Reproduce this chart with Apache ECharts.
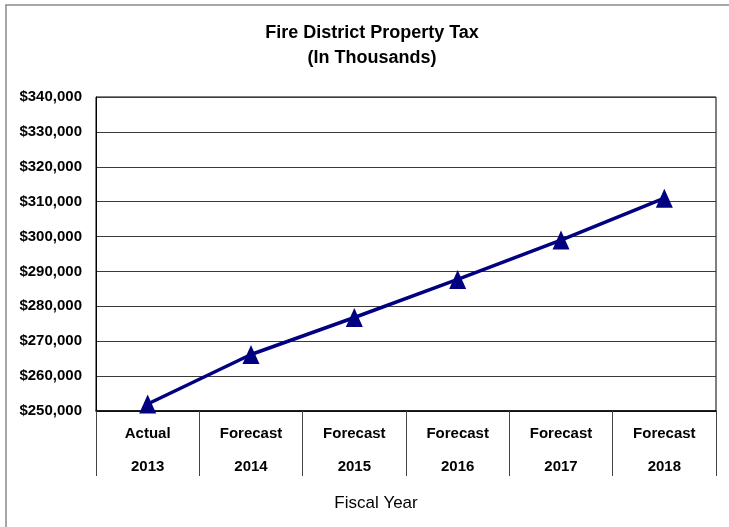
<!DOCTYPE html>
<html>
<head>
<meta charset="utf-8">
<script src="https://cdn.jsdelivr.net/npm/echarts@6/dist/echarts.min.js"></script>
<style>
  html, body { margin: 0; padding: 0; background: #fff; }
  #chart { width: 729px; height: 527px; }
</style>
</head>
<body>
<div id="chart"></div>
<script>
// Fiscal years and property tax revenue (in thousands of dollars)
const categories = ['Actual\n2013', 'Forecast\n2014', 'Forecast\n2015', 'Forecast\n2016', 'Forecast\n2017', 'Forecast\n2018'];
const taxValues = [252000, 266200, 276800, 287700, 299000, 311000];
const yMin = 250000;
const yMax = 340000;
const yStep = 10000;

const FONT = '"Liberation Sans", Arial, sans-serif';

const chart = echarts.init(document.getElementById('chart'), null, { renderer: 'canvas' });

chart.setOption({
  backgroundColor: '#ffffff',
  animation: false,
  graphic: [
    // outer frame of the chart area
    {
      type: 'polyline',
      shape: { points: [[6, 530], [6, 5], [735, 5]] },
      style: { stroke: '#8a8a8a', lineWidth: 1.5, fill: null },
      silent: true
    },
    // two-line chart heading
    {
      type: 'text',
      x: 372,
      y: 33,
      style: {
        text: 'Fire District Property Tax',
        textAlign: 'center',
        textVerticalAlign: 'middle',
        font: 'bold 18px ' + FONT,
        fill: '#000'
      },
      silent: true
    },
    {
      type: 'text',
      x: 372,
      y: 58,
      style: {
        text: '(In Thousands)',
        textAlign: 'center',
        textVerticalAlign: 'middle',
        font: 'bold 18px ' + FONT,
        fill: '#000'
      },
      silent: true
    }
  ],
  grid: {
    left: 96,
    right: 13,
    top: 97,
    bottom: 116,
    show: true,
    borderColor: '#000',
    borderWidth: 1,
    backgroundColor: 'transparent'
  },
  xAxis: {
    type: 'category',
    data: categories,
    boundaryGap: true,
    name: 'Fiscal Year',
    nameLocation: 'middle',
    nameGap: 84,
    nameTextStyle: { fontFamily: FONT, fontSize: 17, color: '#000', padding: [0, 60, 0, 0] },
    axisLine: { show: true, lineStyle: { color: '#000', width: 1.5 } },
    axisTick: { show: true, interval: 0, length: 65, lineStyle: { color: '#444', width: 1 } },
    axisLabel: {
      interval: 0,
      margin: 6,
      fontFamily: FONT,
      fontSize: 15,
      fontWeight: 'bold',
      color: '#000',
      lineHeight: 33
    },
    splitLine: { show: false }
  },
  yAxis: {
    type: 'value',
    min: yMin,
    max: yMax,
    interval: yStep,
    axisLine: { show: true, lineStyle: { color: '#000', width: 1 } },
    axisTick: { show: false },
    axisLabel: {
      margin: 14,
      fontFamily: FONT,
      fontSize: 15,
      fontWeight: 'bold',
      color: '#000',
      formatter: v => '$' + v.toLocaleString('en-US')
    },
    splitLine: { show: true, lineStyle: { color: '#3a3a3a', width: 1 } }
  },
  series: [
    {
      type: 'line',
      data: taxValues,
      symbol: 'triangle',
      symbolSize: [17, 19],
      lineStyle: { color: '#000080', width: 3.5 },
      itemStyle: { color: '#000080' },
      z: 3
    }
  ]
});
</script>
</body>
</html>
